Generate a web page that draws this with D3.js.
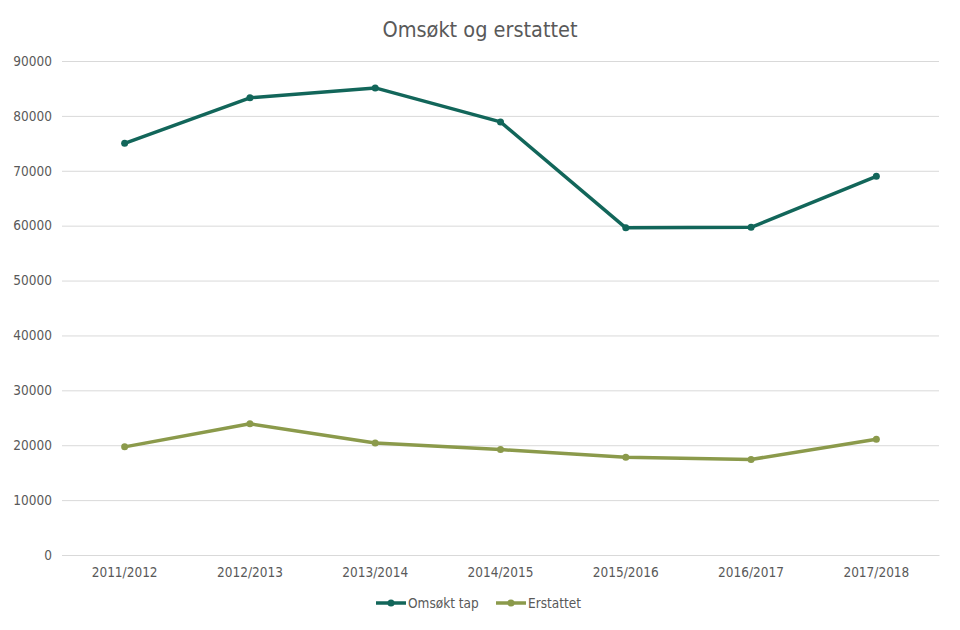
<!DOCTYPE html>
<html><head><meta charset="utf-8">
<script src="https://cdn.jsdelivr.net/npm/d3@7"></script>
<style>body{margin:0;background:#fff}svg{display:block}</style>
</head><body>
<script>
const categories = ["2011/2012","2012/2013","2013/2014","2014/2015","2015/2016","2016/2017","2017/2018"];
const omsoktTap = [75000,83300,85100,78900,59600,59700,69000];
const erstattet = [19700,23900,20400,19200,17800,17400,21100];
const yTicks = [0,10000,20000,30000,40000,50000,60000,70000,80000,90000];
const seriesNames = ["Omsøkt tap","Erstattet"];
const seriesColors = ["#12665a","#8b9a4b"];

const W=960,H=630;
const svg=d3.select("body").append("svg").attr("width",W).attr("height",H);
const font="'DejaVu Sans Condensed','DejaVu Sans',sans-serif";
const m={l:62,r:939,t:61,b:555};
const x=d3.scaleBand().domain(categories).range([m.l,m.r]);
const y=d3.scaleLinear().domain([0,90000]).range([m.b,m.t]);

svg.append("text").attr("x",480).attr("y",37).attr("text-anchor","middle")
  .attr("font-family",font).attr("font-size",21.5).attr("fill","#595959").text("Omsøkt og erstattet");

const ya=svg.append("g").attr("transform",`translate(${m.l},0)`)
  .call(d3.axisLeft(y).tickValues(yTicks).tickSize(-(m.r-m.l)).tickFormat(d3.format("d")).tickPadding(10));
ya.select(".domain").remove();
ya.selectAll(".tick line").attr("stroke","#d9d9d9").attr("stroke-width",1);
ya.selectAll(".tick text").attr("font-family",font).attr("font-size",13.5).attr("fill","#595959");

const xa=svg.append("g").attr("transform",`translate(0,${m.b})`)
  .call(d3.axisBottom(x).tickSize(0).tickPadding(12));
xa.select(".domain").attr("stroke","#d9d9d9");
xa.selectAll(".tick text").attr("font-family",font).attr("font-size",13.5).attr("fill","#595959");

const cx=d=>x(d)+x.bandwidth()/2;
[omsoktTap,erstattet].forEach((vals,i)=>{
  const pts=categories.map((c,j)=>[cx(c),y(vals[j])]);
  svg.append("path").attr("d",d3.line()(pts)).attr("fill","none")
    .attr("stroke",seriesColors[i]).attr("stroke-width",3.5).attr("stroke-linejoin","round");
  svg.append("g").selectAll("circle").data(pts).join("circle")
    .attr("cx",d=>d[0]).attr("cy",d=>d[1]).attr("r",3.5).attr("fill",seriesColors[i]);
});

// legend
const lg=svg.append("g");
const items=[{x:376},{x:496}];
seriesNames.forEach((n,i)=>{
  const lx=items[i].x, ly=603;
  lg.append("line").attr("x1",lx).attr("x2",lx+30).attr("y1",ly).attr("y2",ly)
    .attr("stroke",seriesColors[i]).attr("stroke-width",3.5);
  lg.append("circle").attr("cx",lx+15).attr("cy",ly).attr("r",3.5).attr("fill",seriesColors[i]);
  lg.append("text").attr("x",lx+32).attr("y",ly+4.5).attr("font-family",font).attr("font-size",13.5)
    .attr("fill","#595959").text(n);
});
</script>
</body></html>
